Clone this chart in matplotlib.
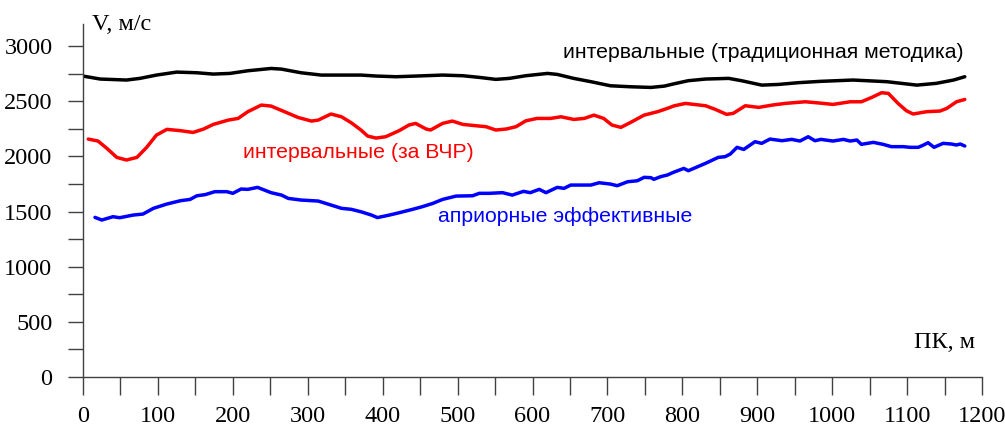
import matplotlib
matplotlib.use("Agg")
import matplotlib.pyplot as plt
from matplotlib.ticker import MultipleLocator

# Data (ПК, м vs V, м/с)
pk_black = [0, 23, 58, 76, 98, 125, 152, 174, 196, 220, 251, 265, 291, 318, 345, 371, 392, 418, 444, 480, 507, 529, 551, 569, 591,
            620, 633, 655, 678, 704, 731, 758, 776, 789, 808, 831, 862, 879, 906, 928, 955, 984, 1028, 1073, 1113, 1139, 1162, 1177]
v_black = [2728, 2701, 2692, 2707, 2737, 2764, 2758, 2746, 2752, 2776, 2797, 2791, 2758, 2737, 2737, 2737, 2728, 2722, 2728, 2737, 2731, 2716, 2698, 2707, 2731,
           2752, 2743, 2707, 2677, 2640, 2631, 2625, 2637, 2658, 2686, 2701, 2707, 2686, 2646, 2652, 2668, 2680, 2692, 2677, 2646, 2662, 2692, 2722]

pk_red = [7, 20, 32, 45, 58, 72, 85, 98, 112, 130, 147, 161, 174, 194, 207, 220, 238, 251, 269, 287, 305, 314, 331, 345, 358, 371, 380, 391,
          404, 422, 435, 444, 458, 464, 480, 493, 507, 524, 538, 551, 565, 578, 591, 606, 624, 638, 655, 669, 682, 695, 706, 718, 731, 749,
          767, 780, 789, 804, 831, 844, 859, 868, 884, 902, 920, 937, 964, 984, 1001, 1024, 1039, 1053, 1066, 1075, 1088, 1099, 1108, 1126,
          1144, 1153, 1166, 1177]
v_red = [2157, 2139, 2072, 1991, 1967, 1991, 2082, 2193, 2245, 2233, 2217, 2248, 2290, 2329, 2344, 2405, 2465, 2456, 2405, 2353, 2320, 2329, 2384, 2359, 2305, 2239, 2184, 2166,
         2178, 2233, 2284, 2299, 2248, 2239, 2299, 2320, 2290, 2278, 2269, 2239, 2248, 2269, 2322, 2344, 2344, 2359, 2335, 2344, 2374, 2344, 2284, 2263, 2308, 2374,
         2405, 2435, 2458, 2480, 2459, 2426, 2381, 2390, 2459, 2444, 2465, 2480, 2495, 2483, 2471, 2495, 2495, 2535, 2577, 2571, 2480, 2414, 2384, 2405,
         2411, 2435, 2495, 2516]

pk_blue = [16, 25, 40, 49, 67, 80, 94, 112, 130, 143, 152, 163, 176, 192, 200, 211, 220, 233, 251, 265, 274, 291, 314, 331, 345, 358, 371, 385, 393,
           409, 422, 440, 453, 467, 480, 498, 520, 529, 542, 560, 573, 588, 597, 609, 618, 633, 642, 651, 678, 689, 704, 713, 727, 740, 749, 758, 762,
           771, 780, 788, 802, 808, 831, 848, 857, 864, 873, 882, 897, 906, 917, 933, 946, 957, 968, 977, 985, 1001, 1015, 1024, 1033, 1039, 1055,
           1068, 1079, 1095, 1104, 1115, 1122, 1128, 1136, 1148, 1159, 1166, 1171, 1177]
v_blue = [1447, 1423, 1453, 1444, 1468, 1477, 1529, 1568, 1598, 1610, 1643, 1653, 1680, 1680, 1665, 1704, 1701, 1719, 1671, 1649, 1619, 1604, 1595, 1559, 1529, 1520, 1498, 1468, 1445,
          1468, 1489, 1520, 1544, 1574, 1610, 1640, 1643, 1665, 1665, 1671, 1649, 1683, 1671, 1701, 1671, 1719, 1710, 1740, 1740, 1761, 1749, 1734, 1770, 1779, 1810, 1807, 1792,
          1816, 1831, 1855, 1891, 1870, 1937, 1991, 1997, 2021, 2082, 2063, 2133, 2118, 2157, 2142, 2154, 2139, 2178, 2142, 2154, 2139, 2154, 2139, 2148, 2109, 2127,
          2109, 2088, 2088, 2082, 2082, 2103, 2124, 2082, 2118, 2112, 2103, 2112, 2094]

x_ticks = [0, 100, 200, 300, 400, 500, 600, 700, 800, 900, 1000, 1100, 1200]
y_ticks = [0, 500, 1000, 1500, 2000, 2500, 3000]

W, H = 1005, 434
fig = plt.figure(figsize=(W / 100, H / 100), dpi=100)
ax = fig.add_axes([83 / W, (H - 377) / H, 899 / W, (377 - 24) / H])

serif = ["Liberation Serif", "DejaVu Serif"]
sans = ["Liberation Sans", "DejaVu Sans"]

kw = dict(lw=2.5, solid_capstyle="round", solid_joinstyle="round")
ax.plot(pk_black, v_black, color="black", **kw)
ax.plot(pk_red, v_red, color="#ff0000", **kw)
ax.plot(pk_blue, v_blue, color="#0000ff", **kw)

ax.set_xlim(0, 1200)
ax.set_ylim(0, 3200)

for s in ["top", "right"]:
    ax.spines[s].set_visible(False)
spine_col = "#404040"
for s in ["left", "bottom"]:
    ax.spines[s].set_color(spine_col)
    ax.spines[s].set_linewidth(1.0)

ax.set_xticks(x_ticks)
ax.xaxis.set_minor_locator(MultipleLocator(50))
ax.set_yticks(y_ticks)
ax.yaxis.set_minor_locator(MultipleLocator(250))

ax.tick_params(axis="x", which="both", direction="out", length=13, width=1.0, color=spine_col)
ax.tick_params(axis="x", which="major", pad=8)
ax.tick_params(axis="y", which="both", direction="out", length=11, width=1.0, color=spine_col)
ax.tick_params(axis="y", which="major", pad=11)

for lab in ax.get_xticklabels() + ax.get_yticklabels():
    lab.set_fontfamily(serif)
    lab.set_fontsize(17.5)

fig.text(92 / W, 1 - 24 / H, "V, м/с", family=serif, fontsize=17.5, va="center", ha="left")
fig.text(975 / W, 1 - 343 / H, "ПК, м", family=serif, fontsize=17.5, va="center", ha="right")

fig.text(563 / W, 1 - 52 / H, "интервальные (традиционная методика)", family=sans, fontsize=15.3,
         color="black", va="center", ha="left")
fig.text(243 / W, 1 - 152 / H, "интервальные (за ВЧР)", family=sans, fontsize=15.3,
         color="#ff0000", va="center", ha="left")
fig.text(438 / W, 1 - 216 / H, "априорные эффективные", family=sans, fontsize=15.3,
         color="#0000ff", va="center", ha="left")

fig.savefig("out.png", dpi=100)
